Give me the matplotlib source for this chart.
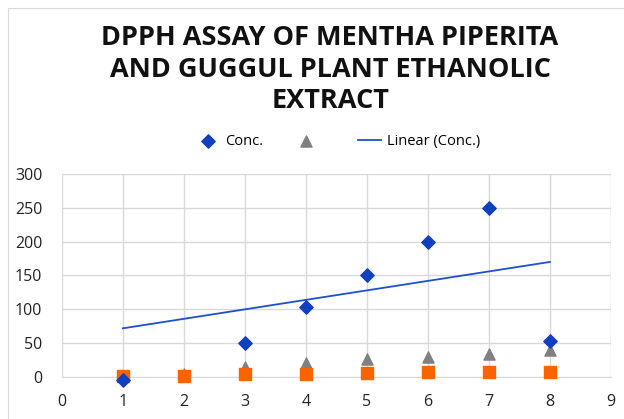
import numpy as np
import matplotlib.pyplot as plt
from matplotlib.patches import Rectangle

# values
conc_x = [1, 3, 4, 5, 6, 7, 8]
conc_y = [-4, 50, 103, 150, 200, 250, 54]

tri_x = [1, 2, 3, 4, 5, 6, 7, 8]
tri_y = [1, 5, 15, 21, 26, 30, 34, 40]

sq_x = [1, 2, 3, 4, 5, 6, 7, 8]
sq_y = [2, 2, 4, 5, 6, 7, 8, 8]

# trend line as drawn in the chart
trend_x = [1, 8]
trend_y = [72, 170]

x_ticks = list(range(0, 10))
y_ticks = [0, 50, 100, 150, 200, 250, 300]

title_lines = ['DPPH ASSAY OF MENTHA PIPERITA',
               'AND GUGGUL PLANT ETHANOLIC',
               'EXTRACT']

plt.rcParams['font.family'] = ['Open Sans', 'DejaVu Sans']

fig = plt.figure(figsize=(6.24, 4.19), dpi=100)
fig.patches.append(Rectangle((0.013, -0.01), 0.99, 0.99, transform=fig.transFigure,
                             fill=False, edgecolor='#d9d9d9', linewidth=0.8))

ax = fig.add_axes([0.099, 0.100, 0.880, 0.485])

ax.scatter(tri_x, tri_y, marker='^', s=64, color='#808080', zorder=3, label=' ')
ax.scatter(sq_x, sq_y, marker='s', s=64, color='#f96400', zorder=4)
ax.scatter(conc_x, conc_y, marker='D', s=46, color='#1040c0', zorder=5, label='Conc.')
ax.plot(trend_x, trend_y, color='#1f4fcc', linewidth=1.3, zorder=2, label='Linear (Conc.)')

ax.set_xlim(0, 9)
ax.set_ylim(0, 300)
ax.set_xticks(x_ticks)
ax.set_yticks(y_ticks)
ax.grid(True, color='#d9d9d9', linewidth=1)
ax.set_axisbelow(True)
for side in ['top', 'right', 'left']:
    ax.spines[side].set_visible(False)
ax.spines['bottom'].set_color('#d9d9d9')
ax.tick_params(length=0, labelsize=11.5, colors='#222222')
ax.tick_params(axis='y', pad=14)
ax.tick_params(axis='x', pad=12)
for coll in ax.collections:
    coll.set_clip_on(False)

for y, line in zip([0.909, 0.833, 0.759], title_lines):
    fig.text(0.529, y, line, ha='center', va='center', fontsize=19.5,
             fontweight='bold', color='#111111')

h, l = ax.get_legend_handles_labels()
order = [l.index('Conc.'), l.index(' '), l.index('Linear (Conc.)')]
ax.legend([h[i] for i in order], [l[i] for i in order], loc='center',
          bbox_to_anchor=(0.542, 0.663), bbox_transform=fig.transFigure,
          ncol=3, frameon=False, fontsize=10.5, handlelength=1.6,
          columnspacing=2.1, handletextpad=0.4)

fig.savefig('out.png', dpi=100)
